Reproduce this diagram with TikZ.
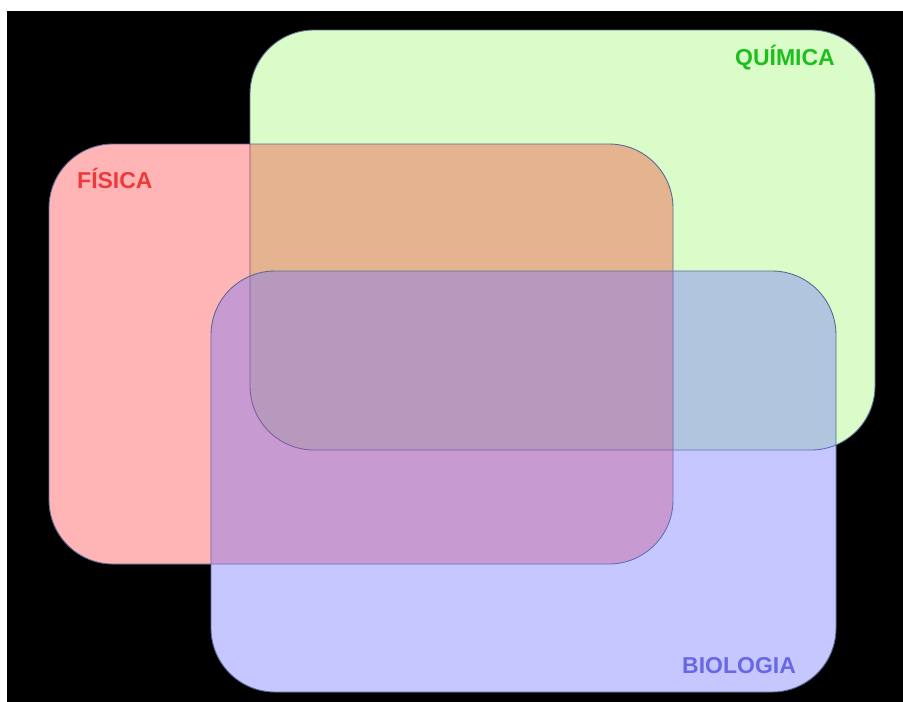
\documentclass[tikz,border=0pt]{standalone}
\usepackage{fontspec}
\setmainfont{Liberation Sans}
\definecolor{quimicafill}{RGB}{217,252,200}
\definecolor{fisicafill}{RGB}{255,12,12}
\definecolor{biologiafill}{RGB}{115,115,255}
\definecolor{edgeblue}{RGB}{90,108,150}
\definecolor{quimicatext}{RGB}{30,190,30}
\definecolor{fisicatext}{RGB}{238,58,58}
\definecolor{biologiatext}{RGB}{104,104,230}

\begin{document}
\begin{tikzpicture}[x=1pt, y=-1pt,
    area/.style={rounded corners=64pt, draw=edgeblue, line width=0.9pt},
    under/.style={rounded corners=64pt, fill=white},
    tag/.style={font=\bfseries\fontsize{23}{28}\selectfont, inner sep=0pt}]
        \useasboundingbox (0,0) rectangle (903,702);
        \fill[white] (0,0) rectangle (903,702);
        \fill[black] (7,11) rectangle (903,702);
        \path[under] (49,144) rectangle (673,564);
        \path[under] (211,271) rectangle (836,692);
        \path[area, fill=quimicafill] (250,30) rectangle (875,450);
        \path[area, fill=fisicafill, fill opacity=0.3] (49,144) rectangle (673,564);
        \path[area, fill=biologiafill, fill opacity=0.4] (211,271) rectangle (836,692);
        \node[tag, text=quimicatext, anchor=base east] (quimica) at (835,65) {QUÍMICA};
        \node[tag, text=fisicatext, anchor=base west] (fisica) at (77,188) {FÍSICA};
        \node[tag, text=biologiatext, anchor=base west] (biologia) at (682,673) {BIOLOGIA};
    \end{tikzpicture}
\end{document}
